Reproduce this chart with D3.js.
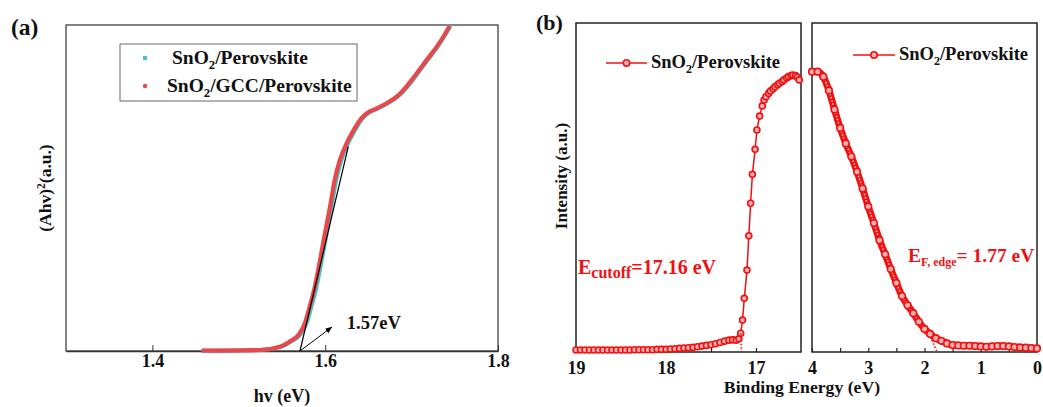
<html lang="en">
<head>
<meta charset="utf-8">
<script src="https://d3js.org/d3.v7.min.js"></script>
<style>
  body { margin: 0; background: #fff; }
  text { font-family: "Liberation Serif", "Times New Roman", serif; font-weight: bold; }
</style>
</head>
<body>
<div id="graph"></div>
<script>
// ---- panel (a): Tauc plot ----
var tauc_hv  = [1.457,1.5245,1.5477,1.559,1.569,1.5766,1.582,1.588,1.594,1.5998,1.6056,1.611,1.617,1.6248,1.632,1.642,1.648,1.6596,1.671,1.6827,1.694,1.706,1.7175,1.729,1.7367,1.744]
var tauc_red = [0.001,0.003,0.013,0.029,0.049,0.086,0.136,0.197,0.279,0.362,0.443,0.525,0.586,0.637,0.673,0.714,0.729,0.744,0.760,0.780,0.811,0.852,0.893,0.933,0.964,0.997]
var tauc_cyan_hv = [1.457,1.5245,1.5485,1.5605,1.5708,1.5786,1.5840,1.5900,1.5960,1.6018,1.6074,1.6128,1.6188,1.6264,1.6336,1.6434,1.6494,1.6610,1.6724,1.6840,1.6954,1.7072,1.7187,1.7300,1.7377,1.745]
var tauc_cyan = tauc_red
var tangent_a = [[1.5708,0],[1.6267,0.627]]
var arrow_a = [[1.5708,0],[1.6075,0.073]]
var ticks_a = [1.4,1.6,1.8]
var legend_a = ["SnO|2|/Perovskite","SnO|2|/GCC/Perovskite"]

// ---- panel (b): UPS ----
var cutoff = [[19.00,0.006],[18.95,0.006],[18.90,0.006],[18.85,0.006],[18.80,0.006],[18.75,0.006],[18.70,0.006],[18.65,0.006],[18.60,0.006],[18.55,0.006],[18.50,0.006],[18.45,0.006],[18.40,0.006],[18.35,0.007],[18.30,0.007],[18.25,0.007],[18.20,0.007],[18.15,0.007],[18.10,0.008],[18.05,0.008],[18.00,0.008],[17.95,0.009],[17.90,0.010],[17.85,0.011],[17.80,0.012],[17.75,0.013],[17.70,0.014],[17.65,0.016],[17.60,0.018],[17.55,0.020],[17.50,0.022],[17.45,0.025],[17.40,0.029],[17.35,0.033],[17.30,0.036],[17.26,0.037],[17.22,0.036],[17.19,0.040],[17.17,0.057],[17.15,0.097],[17.13,0.163],[17.10,0.249],[17.08,0.353],[17.06,0.452],[17.04,0.540],[17.01,0.616],[16.99,0.675],[16.96,0.717],[16.93,0.748],[16.91,0.766],[16.89,0.776],[16.86,0.786],[16.84,0.793],[16.81,0.800],[16.79,0.806],[16.76,0.812],[16.74,0.817],[16.71,0.822],[16.69,0.827],[16.66,0.833],[16.64,0.837],[16.61,0.840],[16.59,0.842],[16.56,0.840],[16.54,0.835],[16.52,0.827]]
var valence_be  = [4.0,3.9,3.8,3.7,3.6,3.5,3.4,3.3,3.2,3.1,3.0,2.9,2.8,2.7,2.6,2.5,2.4,2.3,2.2,2.1,2.0,1.9,1.8,1.7,1.6,1.5,1.4,1.3,1.2,1.1,1.0,0.9,0.8,0.7,0.6,0.5,0.4,0.3,0.2,0.1,0.0]
var valence_int = [0.852,0.852,0.837,0.795,0.737,0.681,0.634,0.594,0.548,0.497,0.442,0.392,0.340,0.297,0.252,0.210,0.170,0.142,0.118,0.092,0.070,0.055,0.042,0.034,0.026,0.021,0.020,0.019,0.019,0.018,0.017,0.016,0.017,0.018,0.018,0.017,0.015,0.014,0.013,0.012,0.011]
var cutoff_fit = [[17.17,0.057],[17.16,-0.002]]
var edge_fit = [[1.87,0.036],[1.77,-0.002]]
var ticks_bl = [19,18.5,18,17.5,17]
var ticks_br = [4,3.5,3,2.5,2,1.5,1,0.5,0]

var RED_A = "#e8474c", CYAN = "#3fc4c8", RED_B = "#f01010"

var svg = d3.select('#graph').append('svg').attr('width',1043).attr('height',407)

// ================= (a) =================
var xa = d3.scaleLinear().domain([1.3,1.8]).range([66,498])
var ya = d3.scaleLinear().domain([0,1]).range([351,25])
var ga = svg.append('g')

ga.append('rect').attr('x',66).attr('y',25).attr('width',432).attr('height',326)
  .attr('fill','none').attr('stroke','#333').attr('stroke-width',1.2)

var axA = ga.append('g').attr('transform','translate(0,351)')
  .call(d3.axisBottom(xa).tickValues(ticks_a).tickFormat(d3.format('.1f')).tickSizeInner(-6).tickSizeOuter(0).tickPadding(3))
axA.select('.domain').attr('stroke','#333').attr('stroke-width',1.5)
axA.selectAll('line').attr('stroke','#333')
axA.selectAll('text').attr('font-size',18).attr('fill','#111')

var lineA = d3.line().curve(d3.curveMonotoneX)
ga.append('path').datum(d3.zip(tauc_cyan_hv,tauc_cyan))
  .attr('d',lineA.x(function(d){return xa(d[0])}).y(function(d){return ya(d[1])}))
  .attr('fill','none').attr('stroke',CYAN).attr('stroke-width',4)
ga.append('path').datum(d3.zip(tauc_hv,tauc_red))
  .attr('d',lineA)
  .attr('fill','none').attr('stroke',RED_A).attr('stroke-width',4.2)

ga.append('line')
  .attr('x1',xa(tangent_a[0][0])).attr('y1',ya(tangent_a[0][1]))
  .attr('x2',xa(tangent_a[1][0])).attr('y2',ya(tangent_a[1][1]))
  .attr('stroke','#000').attr('stroke-width',1.2)

svg.append('defs').append('marker').attr('id','arr').attr('viewBox','0 0 10 10')
  .attr('refX',9).attr('refY',5).attr('markerWidth',7).attr('markerHeight',7).attr('orient','auto')
  .append('path').attr('d','M0,1 L10,5 L0,9 z').attr('fill','#000')
ga.append('line')
  .attr('x1',xa(arrow_a[0][0])).attr('y1',ya(arrow_a[0][1]))
  .attr('x2',xa(arrow_a[1][0])).attr('y2',ya(arrow_a[1][1]))
  .attr('stroke','#000').attr('stroke-width',1).attr('marker-end','url(#arr)')
ga.append('text').attr('x',xa(1.625)).attr('y',ya(0.068)).attr('font-size',18.5).attr('fill','#111').text('1.57eV')

// legend (a)
ga.append('rect').attr('x',120).attr('y',44).attr('width',237).attr('height',57)
  .attr('fill','#fff').attr('stroke','#666').attr('stroke-width',1)
ga.append('rect').attr('x',143).attr('y',56).attr('width',4).attr('height',4).attr('fill',CYAN)
ga.append('circle').attr('cx',145).attr('cy',86).attr('r',2.2).attr('fill',RED_A)
function subText(g, x, y, s, size, fill){
  var p = s.split('|')
  var t = g.append('text').attr('x',x).attr('y',y).attr('font-size',size).attr('fill',fill||'#111')
  t.append('tspan').text(p[0])
  t.append('tspan').attr('dy',size*0.28).attr('font-size',size*0.65).text(p[1])
  t.append('tspan').attr('dy',-size*0.28).text(p[2])
  return t
}
subText(ga,172,64,legend_a[0],19.5)
subText(ga,167,92,legend_a[1],19.5)

ga.append('text').attr('transform','translate(51,188) rotate(-90)').attr('text-anchor','middle')
  .attr('font-size',17.5).attr('fill','#111')
  .call(function(t){
    t.append('tspan').text('(Ahv)')
    t.append('tspan').attr('dy',-6).attr('font-size',11.5).text('2')
    t.append('tspan').attr('dy',6).text('(a.u.)')
  })
ga.append('text').attr('x',282).attr('y',402).attr('text-anchor','middle').attr('font-size',18).attr('fill','#111').text('hv (eV)')
ga.append('text').attr('x',11).attr('y',35).attr('font-size',23.5).attr('fill','#111').text('(a)')

// ================= (b) =================
var xbl = d3.scaleLinear().domain([19,16.5]).range([576,801])
var xbr = d3.scaleLinear().domain([4,0]).range([812,1037])
var yb = d3.scaleLinear().domain([0,1]).range([352,23])
var gb = svg.append('g')

function frame(x0,x1){
  gb.append('rect').attr('x',x0).attr('y',23).attr('width',x1-x0).attr('height',329)
    .attr('fill','none').attr('stroke','#222').attr('stroke-width',1.5)
}
frame(576,801); frame(812,1037)

function bAxis(sc, vals){
  var ax = gb.append('g').attr('transform','translate(0,352)')
    .call(d3.axisBottom(sc).tickValues(vals).tickSizeInner(-4).tickSizeOuter(0).tickPadding(9)
      .tickFormat(function(d){ return d%1===0 ? d3.format('d')(d) : '' }))
  ax.select('.domain').remove()
  ax.selectAll('line').attr('stroke','#222').attr('stroke-width',1.2)
  ax.selectAll('text').attr('font-size',18).attr('fill','#111')
}
bAxis(xbl, ticks_bl); bAxis(xbr, ticks_br)

var lineBL = d3.line().x(function(d){return xbl(d[0])}).y(function(d){return yb(d[1])})
gb.append('path').datum(cutoff).attr('d',lineBL).attr('fill','none').attr('stroke',RED_B).attr('stroke-width',1.5)
gb.selectAll('.cdot').data(cutoff).enter().append('circle').attr('class','cdot')
  .attr('cx',function(d){return xbl(d[0])}).attr('cy',function(d){return yb(d[1])}).attr('r',3)
  .attr('fill','#ffb0b0').attr('stroke',RED_B).attr('stroke-width',1.6)
gb.append('path').datum(cutoff_fit).attr('d',lineBL).attr('fill','none').attr('stroke',RED_B)
  .attr('stroke-width',1.6).attr('stroke-dasharray','1.5,2')

var valence = d3.zip(valence_be,valence_int)
var lineBR = d3.line().curve(d3.curveMonotoneX).x(function(d){return xbr(d[0])}).y(function(d){return yb(d[1])})
gb.append('path').datum(valence).attr('d',lineBR).attr('fill','none').attr('stroke',RED_B).attr('stroke-width',7)
gb.append('path').datum(valence).attr('d',lineBR).attr('fill','none').attr('stroke','#ffc0c0')
  .attr('stroke-width',1.6).attr('stroke-dasharray','1.6,1.6')
gb.selectAll('.vdot').data(valence).enter().append('circle').attr('class','vdot')
  .attr('cx',function(d){return xbr(d[0])}).attr('cy',function(d){return yb(d[1])}).attr('r',3.3)
  .attr('fill','#ffb0b0').attr('stroke',RED_B).attr('stroke-width',1.6)
gb.append('path').datum(edge_fit).attr('d',lineBR.curve(d3.curveLinear)).attr('fill','none').attr('stroke',RED_B)
  .attr('stroke-width',1.6).attr('stroke-dasharray','1.5,2')

// legends (b)
function bLegend(x0,x1,y,tx){
  gb.append('line').attr('x1',x0).attr('x2',x1).attr('y1',y).attr('y2',y).attr('stroke',RED_B).attr('stroke-width',1.6)
  gb.append('circle').attr('cx',(x0+x1)/2).attr('cy',y).attr('r',3.2).attr('fill','#ffb0b0').attr('stroke',RED_B).attr('stroke-width',1.6)
  subText(gb,tx,y+5,"SnO|2|/Perovskite",18.5)
}
bLegend(606,647,63,651)
bLegend(853,895,55,899)

// annotations
var a1 = gb.append('text').attr('x',578).attr('y',274).attr('fill',RED_B).attr('font-size',20)
a1.append('tspan').text('E')
a1.append('tspan').attr('dy',4).attr('font-size',16).text('cutoff')
a1.append('tspan').attr('dy',-4).text('=17.16 eV')
var a2 = gb.append('text').attr('x',908).attr('y',262).attr('fill',RED_B).attr('font-size',19.5)
a2.append('tspan').text('E')
a2.append('tspan').attr('dy',4).attr('font-size',12).text('F, edge')
a2.append('tspan').attr('dy',-4).text('= 1.77 eV')

gb.append('text').attr('transform','translate(567,176) rotate(-90)').attr('text-anchor','middle')
  .attr('font-size',17).attr('fill','#111').text('Intensity (a.u.)')
gb.append('text').attr('x',802).attr('y',393).attr('text-anchor','middle').attr('font-size',17.7).attr('fill','#111').text('Binding Energy (eV)')
gb.append('text').attr('x',536).attr('y',30).attr('font-size',22).attr('fill','#111').text('(b)')
</script>
</body>
</html>
